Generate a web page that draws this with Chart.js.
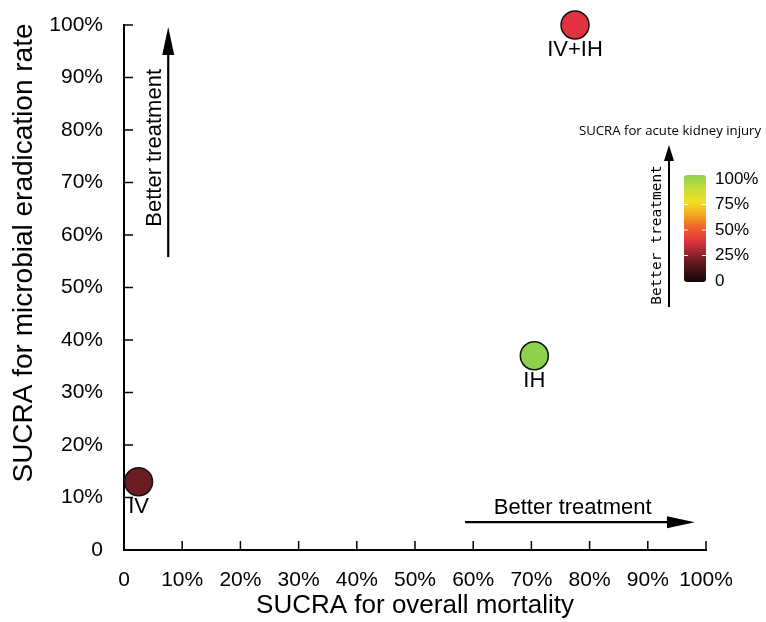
<!DOCTYPE html>
<html>
<head>
<meta charset="utf-8">
<script src="https://cdn.jsdelivr.net/npm/chart.js@4.4.1/dist/chart.umd.min.js"></script>
<style>
  html, body { margin: 0; padding: 0; background: #fff; }
</style>
</head>
<body>
<canvas id="graph" width="766" height="622"></canvas>
<script>
// data
var treatments = ['IV', 'IV+IH', 'IH'];
var sucraMortality = [2.5, 77.5, 70.5];     // x
var sucraEradication = [13, 100, 37];      // y
var sucraKidney = [20, 38, 100];           // colour
var axisTicks = [0, 10, 20, 30, 40, 50, 60, 70, 80, 90, 100];
var legendTicks = [0, 25, 50, 75, 100];

var FONT = '"Liberation Sans", Arial, sans-serif';

// colour ramp of the kidney injury legend (0 -> 1)
var ramp = [
  [0.00, '#150607'],
  [0.20, '#6b1d22'],
  [0.38, '#e1323f'],
  [0.52, '#f0682a'],
  [0.62, '#f4a424'],
  [0.75, '#f3e026'],
  [0.88, '#c3dc3c'],
  [1.00, '#8cd24c']
];

function hexToRgb(h) {
  return [parseInt(h.substr(1, 2), 16), parseInt(h.substr(3, 2), 16), parseInt(h.substr(5, 2), 16)];
}

function colourFor(v) {
  var t = v / 100;
  for (var i = 1; i < ramp.length; i++) {
    if (t <= ramp[i][0]) {
      var a = ramp[i - 1], b = ramp[i];
      var f = (t - a[0]) / (b[0] - a[0]);
      var ca = hexToRgb(a[1]), cb = hexToRgb(b[1]);
      var c = ca.map(function (x, k) { return Math.round(x + (cb[k] - x) * f); });
      return 'rgb(' + c.join(',') + ')';
    }
  }
  return ramp[ramp.length - 1][1];
}

var points = treatments.map(function (t, i) {
  return { x: sucraMortality[i], y: sucraEradication[i] };
});

// arrows in data units (x, y)
var arrows = [
  { from: [7.6, 55.8], to: [7.6, 99.6], text: 'Better treatment', at: [5.3, 76.6], rot: -Math.PI / 2 },
  { from: [58.6, 5.3], to: [98.1, 5.3], text: 'Better treatment', at: [77.1, 8.0], rot: 0 }
];

function pct(v) { return v === 0 ? '0' : v + '%'; }

function drawArrow(ctx, x1, y1, x2, y2, headLen, headHalf, lw) {
  var ang = Math.atan2(y2 - y1, x2 - x1);
  ctx.save();
  ctx.strokeStyle = '#000';
  ctx.fillStyle = '#000';
  ctx.lineWidth = lw;
  ctx.beginPath();
  ctx.moveTo(x1, y1);
  ctx.lineTo(x2 - Math.cos(ang) * headLen * 0.8, y2 - Math.sin(ang) * headLen * 0.8);
  ctx.stroke();
  ctx.translate(x2, y2);
  ctx.rotate(ang);
  ctx.beginPath();
  ctx.moveTo(0, 0);
  ctx.lineTo(-headLen, -headHalf);
  ctx.lineTo(-headLen, headHalf);
  ctx.closePath();
  ctx.fill();
  ctx.restore();
}

var decorations = {
  id: 'decorations',
  afterDraw: function (chart) {
    var ctx = chart.ctx;
    var xs = chart.scales.x, ys = chart.scales.y;

    // y axis title (sits above the centre of the axis in the original)
    ctx.save();
    ctx.translate(24, 253);
    ctx.rotate(-Math.PI / 2);
    ctx.fillStyle = '#000';
    ctx.font = '28px ' + FONT;
    ctx.textAlign = 'center';
    ctx.textBaseline = 'middle';
    ctx.fillText('SUCRA for microbial eradication rate', 0, 0);
    ctx.restore();

    // inward tick marks
    ctx.save();
    ctx.strokeStyle = '#000';
    ctx.lineWidth = 1.5;
    axisTicks.forEach(function (v) {
      if (v === 0) return;
      var py = ys.getPixelForValue(v);
      ctx.beginPath(); ctx.moveTo(xs.left, py); ctx.lineTo(xs.left + 9, py); ctx.stroke();
      var px = xs.getPixelForValue(v);
      ctx.beginPath(); ctx.moveTo(px, ys.bottom); ctx.lineTo(px, ys.bottom - 9); ctx.stroke();
    });
    ctx.restore();

    // "better treatment" arrows
    arrows.forEach(function (a) {
      drawArrow(ctx,
        xs.getPixelForValue(a.from[0]), ys.getPixelForValue(a.from[1]),
        xs.getPixelForValue(a.to[0]), ys.getPixelForValue(a.to[1]), 28, 6, 2.2);
      ctx.save();
      ctx.translate(xs.getPixelForValue(a.at[0]), ys.getPixelForValue(a.at[1]));
      ctx.rotate(a.rot);
      ctx.fillStyle = '#000';
      ctx.font = '22px ' + FONT;
      ctx.textAlign = 'center';
      ctx.textBaseline = 'middle';
      ctx.fillText(a.text, 0, 0);
      ctx.restore();
    });

    // kidney injury colour legend
    var bx = 684, bw = 22, bTop = 175, bBot = 282;
    ctx.save();
    ctx.fillStyle = '#000';
    ctx.font = '13.2px "Open Sans", sans-serif';
    ctx.textAlign = 'center';
    ctx.textBaseline = 'middle';
    ctx.fillText('SUCRA for acute kidney injury', 670, 131);

    drawArrow(ctx, 669, 307, 669, 145, 16, 5, 2);

    ctx.save();
    ctx.translate(657, 235);
    ctx.rotate(-Math.PI / 2);
    ctx.font = '14.5px "DejaVu Sans Mono", monospace';
    ctx.fillText('Better treatment', 0, 0);
    ctx.restore();

    var g = ctx.createLinearGradient(0, bBot, 0, bTop);
    ramp.forEach(function (s) { g.addColorStop(s[0], s[1]); });
    ctx.fillStyle = g;
    ctx.beginPath();
    if (ctx.roundRect) ctx.roundRect(bx, bTop, bw, bBot - bTop, 3);
    else ctx.rect(bx, bTop, bw, bBot - bTop);
    ctx.fill();

    ctx.strokeStyle = '#fff';
    ctx.lineWidth = 1;
    ctx.font = '17px ' + FONT;
    ctx.textAlign = 'left';
    legendTicks.forEach(function (v) {
      var py = bBot - 1 - v / 100 * 102;
      if (v > 0 && v < 100) {
        ctx.beginPath(); ctx.moveTo(bx, py); ctx.lineTo(bx + 4, py); ctx.stroke();
        ctx.beginPath(); ctx.moveTo(bx + bw - 4, py); ctx.lineTo(bx + bw, py); ctx.stroke();
      }
      ctx.fillStyle = '#000';
      ctx.fillText(pct(v), 715, py);
    });
    ctx.restore();

    // treatment names under the bubbles
    ctx.save();
    ctx.fillStyle = '#000';
    ctx.font = '22px ' + FONT;
    ctx.textAlign = 'center';
    ctx.textBaseline = 'middle';
    points.forEach(function (p, i) {
      ctx.fillText(treatments[i], xs.getPixelForValue(p.x), ys.getPixelForValue(p.y) + 25);
    });
    ctx.restore();
  }
};

var config = {
  type: 'scatter',
  data: {
    datasets: [{
      data: points,
      backgroundColor: sucraKidney.map(colourFor),
      borderColor: '#111',
      borderWidth: 1.5,
      pointRadius: 14,
      pointHoverRadius: 14,
      clip: false
    }]
  },
  options: {
    responsive: false,
    animation: false,
    layout: { autoPadding: false, padding: { top: 25, right: 60, left: 0, bottom: 0 } },
    plugins: { legend: { display: false }, tooltip: { enabled: false } },
    scales: {
      x: {
        type: 'linear', min: 0, max: 100,
        afterFit: function (s) { s.height = 72; s.paddingLeft = 0; s.paddingRight = 0; },
        afterBuildTicks: function (s) { s.ticks = axisTicks.map(function (v) { return { value: v }; }); },
        grid: { display: false, drawTicks: false },
        border: { display: true, color: '#000', width: 2 },
        ticks: {
          color: '#000', font: { family: FONT, size: 21 }, padding: 18,
          autoSkip: false, maxRotation: 0, minRotation: 0,
          callback: pct
        },
        title: {
          display: true, text: 'SUCRA for overall mortality', color: '#000',
          font: { family: FONT, size: 26 }, padding: { top: 0, bottom: 1 }
        }
      },
      y: {
        type: 'linear', min: 0, max: 100,
        afterFit: function (s) { s.width = 124; s.paddingTop = 0; s.paddingBottom = 0; },
        afterBuildTicks: function (s) { s.ticks = axisTicks.map(function (v) { return { value: v }; }); },
        grid: { display: false, drawTicks: false },
        border: { display: true, color: '#000', width: 2 },
        ticks: {
          color: '#000', font: { family: FONT, size: 21 }, padding: 21,
          callback: pct
        }
      }
    }
  },
  plugins: [decorations]
};

var graph = new Chart(document.getElementById('graph'), config);
</script>
</body>
</html>
